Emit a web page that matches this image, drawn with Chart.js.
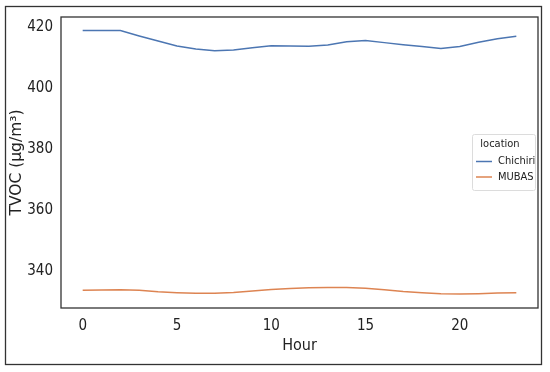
<!DOCTYPE html>
<html>
<head>
<meta charset="utf-8">
<script src="https://cdn.jsdelivr.net/npm/chart.js@4"></script>
<style>
  html, body { margin: 0; padding: 0; background: #fff; }
  #wrap { width: 550px; height: 372px; }
</style>
</head>
<body>
<div id="wrap"><canvas id="myChart" width="550" height="372"></canvas></div>
<script>
// datos
const horas = [0, 1, 2, 3, 4, 5, 6, 7, 8, 9, 10, 11, 12, 13, 14, 15, 16, 17, 18, 19, 20, 21, 22, 23];
const chichiri = [418.9, 418.9, 418.9, 417.1, 415.4, 413.8, 412.8, 412.2, 412.5, 413.2, 413.9, 413.8,
                  413.7, 414.1, 415.2, 415.6, 414.9, 414.2, 413.6, 413.0, 413.6, 415.0, 416.2, 417.0];
const mubas = [333.7, 333.8, 333.9, 333.7, 333.2, 332.9, 332.7, 332.7, 333.0, 333.5, 334.0, 334.3,
               334.5, 334.6, 334.6, 334.4, 333.9, 333.3, 332.9, 332.6, 332.5, 332.6, 332.8, 332.9];
const ticksX = [0, 5, 10, 15, 20];
const ticksY = [340, 360, 380, 400, 420];
const nombres = ["Chichiri", "MUBAS"];
const tituloLeyenda = "location";

const fuente = "'DejaVu Sans Condensed', 'DejaVu Sans', sans-serif";
const colorTexto = "#222";

function armarPuntos(valores) {
    return horas.map((h, i) => ({ x: h, y: valores[i] }));
}

// dibuja el marco exterior, el borde del area y la leyenda
const marcoPlugin = {
    id: "marco",
    afterDraw(chart) {
        const ctx = chart.ctx;
        const a = chart.chartArea;
        ctx.save();
        ctx.strokeStyle = "#333";
        ctx.lineWidth = 1.3;
        ctx.strokeRect(5.5, 6.5, 536, 358);
        ctx.strokeRect(a.left, a.top, a.right - a.left, a.bottom - a.top);

        // leyenda
        const x0 = 472, y0 = 134, w = 63, h = 56;
        ctx.fillStyle = "rgba(255,255,255,0.85)";
        ctx.strokeStyle = "#dcdcdc";
        ctx.lineWidth = 1;
        ctx.beginPath();
        ctx.roundRect(x0 + 0.5, y0 + 0.5, w, h, 2);
        ctx.fill();
        ctx.stroke();

        ctx.fillStyle = colorTexto;
        ctx.font = "11px " + fuente;
        ctx.textAlign = "center";
        ctx.textBaseline = "middle";
        ctx.fillText(tituloLeyenda, 500, 144);

        ctx.textAlign = "left";
        chart.data.datasets.forEach((ds, i) => {
            const y = 161.5 + i * 15.5;
            ctx.strokeStyle = ds.borderColor;
            ctx.lineWidth = 1.5;
            ctx.beginPath();
            ctx.moveTo(476, y);
            ctx.lineTo(492, y);
            ctx.stroke();
            ctx.fillStyle = colorTexto;
            ctx.fillText(ds.label, 498, y);
        });
        ctx.restore();
    }
};

function cargarGrafico() {
    const config = {
        type: "line",
        data: {
            datasets: [
                {
                    label: nombres[0],
                    data: armarPuntos(chichiri),
                    borderColor: "#4c76b2",
                    borderWidth: 1.5,
                    pointRadius: 0,
                    tension: 0
                },
                {
                    label: nombres[1],
                    data: armarPuntos(mubas),
                    borderColor: "#dd8452",
                    borderWidth: 1.5,
                    pointRadius: 0,
                    tension: 0
                }
            ]
        },
        options: {
            responsive: false,
            animation: false,
            layout: { padding: { top: 14, right: 12, left: 0, bottom: 0 } },
            plugins: {
                legend: { display: false },
                tooltip: { enabled: false }
            },
            scales: {
                x: {
                    type: "linear",
                    min: -1.15,
                    max: 24.15,
                    afterBuildTicks: (scale) => { scale.ticks = ticksX.map((v) => ({ value: v })); },
                    afterFit: (scale) => { scale.height = 64; },
                    grid: { display: false, drawTicks: false },
                    border: { display: false },
                    ticks: {
                        color: colorTexto,
                        font: { family: fuente, size: 15 },
                        padding: 9,
                        maxRotation: 0
                    },
                    title: {
                        display: true,
                        text: "Hour",
                        color: colorTexto,
                        font: { family: fuente, size: 16 },
                        padding: { top: 0, bottom: 17 }
                    }
                },
                y: {
                    min: 327.9,
                    max: 423.3,
                    afterBuildTicks: (scale) => { scale.ticks = ticksY.map((v) => ({ value: v })); },
                    afterFit: (scale) => { scale.width = 61; },
                    grid: { display: false, drawTicks: false },
                    border: { display: false },
                    ticks: {
                        color: colorTexto,
                        font: { family: fuente, size: 15 },
                        padding: 8
                    },
                    title: {
                        display: true,
                        text: "TVOC (µg/m³)",
                        color: colorTexto,
                        font: { family: "'DejaVu Sans', sans-serif", size: 15.5 },
                        padding: { top: 8, bottom: 0 }
                    }
                }
            }
        },
        plugins: [marcoPlugin]
    };

    new Chart(document.getElementById("myChart"), config);
}

cargarGrafico();
</script>
</body>
</html>
